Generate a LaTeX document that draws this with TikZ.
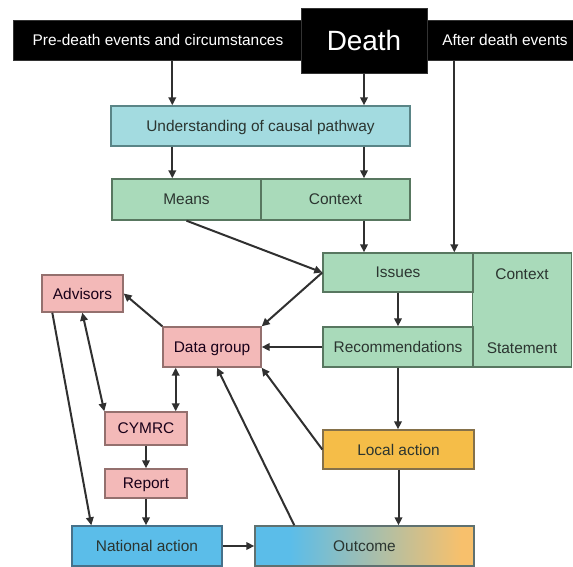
\documentclass[tikz,border=0pt]{standalone}
\usepackage{fontspec}
\usetikzlibrary{arrows.meta}
\newfontfamily\diagfont{Liberation Sans}

\definecolor{linecol}{HTML}{303030}
\definecolor{txtcol}{HTML}{2B3530}
\definecolor{cyanfill}{HTML}{A3DBE0}
\definecolor{cyanedge}{HTML}{5A8587}
\definecolor{greenfill}{HTML}{A9DABA}
\definecolor{greenedge}{HTML}{587760}
\definecolor{pinkfill}{HTML}{F3B9B8}
\definecolor{pinkedge}{HTML}{94706E}
\definecolor{orangefill}{HTML}{F5BD48}
\definecolor{orangeedge}{HTML}{85714A}
\definecolor{bluefill}{HTML}{5BBDE9}
\definecolor{blueedge}{HTML}{46718A}
\definecolor{outorange}{HTML}{F7C06C}

% outcome box: blue on the left fading into orange on the right
\pgfdeclarehorizontalshading{outshade}{100bp}{color(0bp)=(bluefill); color(33bp)=(bluefill); color(72bp)=(outorange); color(100bp)=(outorange)}

\tikzset{
  x=1bp, y=-1bp,
  lbl/.style={font=\diagfont\fontsize{15.5}{18}\selectfont, text=txtcol, inner sep=0pt, text depth=0pt},
  whitelbl/.style={lbl, text=white},
  box/.style={lbl, draw, line width=1.4bp, rectangle},
  cyanbox/.style={box, fill=cyanfill, draw=cyanedge},
  greenbox/.style={box, fill=greenfill, draw=greenedge},
  pinkbox/.style={box, fill=pinkfill, draw=pinkedge, text=black!80!violet},
  orangebox/.style={box, fill=orangefill, draw=orangeedge},
  bluebox/.style={box, fill=bluefill, draw=blueedge},
  arr/.style={draw=linecol, line width=2bp, -{Triangle[length=8bp,width=7.5bp]}},
  darr/.style={arr, {Triangle[length=8bp,width=7.5bp]}-{Triangle[length=8bp,width=7.5bp]}}
}

\begin{document}
\begin{tikzpicture}
\useasboundingbox (0,0) rectangle (573,567);

% timeline bar
\node[rectangle, fill=black, draw=black!80, minimum width=560bp, minimum height=40bp, inner sep=0pt] (bar) at (293,40) {};
\node[rectangle, fill=black, draw=black!80, minimum width=126bp, minimum height=65bp, inner sep=0pt, text depth=0pt,
      font=\diagfont\fontsize{28}{30}\selectfont, text=white] (death) at (364,40.5) {Death};
\node[whitelbl] (pre) at (158,40) {Pre-death events and circumstances};
\node[whitelbl] (after) at (505,40) {After death events};

% review boxes
\node[cyanbox, minimum width=299bp, minimum height=40bp] (und) at (260.5,126) {Understanding of causal pathway};
\node[greenbox, minimum width=149bp, minimum height=41bp] (means) at (186.5,199.5) {Means};
\node[greenbox, minimum width=149bp, minimum height=41bp] (ctxa) at (335.5,199.5) {Context};
\node[greenbox, minimum width=99bp, minimum height=114bp] (ctxb) at (522,310) {};
\node[lbl] (ctxlbl) at (522,274) {Context};
\node[lbl] (stmtlbl) at (522,348) {Statement};
\node[greenbox, minimum width=150bp, minimum height=39bp] (issues) at (398,272.5) {Issues};
\node[greenbox, minimum width=150bp, minimum height=40bp] (recs) at (398,347) {Recommendations};

% groups and actions
\node[pinkbox, minimum width=98bp, minimum height=40bp] (datag) at (212,347) {Data group};
\node[pinkbox, minimum width=81bp, minimum height=37bp] (adv) at (82.5,293.5) {Advisors};
\node[pinkbox, minimum width=82bp, minimum height=33bp] (cymrc) at (146,428.5) {CYMRC};
\node[pinkbox, minimum width=82bp, minimum height=29bp] (report) at (146,483.5) {Report};
\node[orangebox, minimum width=151bp, minimum height=39bp] (local) at (398.5,449.5) {Local action};
\node[bluebox, minimum width=150bp, minimum height=40bp] (natl) at (147,546) {National action};
\node[box, draw=blueedge!60!orangeedge, shading=outshade, minimum width=219bp, minimum height=40bp] (outc) at (364.5,546) {Outcome};

% anchor points for the off-centre connectors
\coordinate (pa) at ([xshift=62bp]und.north west);
\coordinate (pb) at ([xshift=132bp]issues.north west);
\coordinate (pc) at ([xshift=-12bp]cymrc.north east);

% top section
\draw[arr] (bar.south -| pa) -- (pa);
\draw[arr] (death.south) -- (death.south |- und.north);
\draw[arr] (und.south -| pa) -- (means.north -| pa);
\draw[arr] (und.south -| death) -- (ctxa.north -| death);
\draw[arr] (ctxa.south -| death) -- (issues.north -| death);
\draw[arr] (bar.south -| pb) -- (pb);
\draw[arr] (means.south) -- (issues.west);
\draw[arr] (issues.south) -- (recs.north);

% feedback into the data group
\draw[arr] (issues.west) -- (datag.north east);
\draw[arr] (recs.west) -- (datag.east);
\draw[arr] (local.west) -- (datag.south east);
\draw[arr] ([xshift=40bp]outc.north west) -- ([xshift=5bp]datag.south);
\draw[arr] (datag.north west) -- (adv.east);
\draw[darr] (datag.south -| pc) -- (pc);
\draw[darr] ([xshift=41bp]adv.south west) -- (cymrc.north west);

% down to action and outcome
\draw[arr] ([xshift=11bp]adv.south west) -- ([xshift=20bp]natl.north west);
\draw[arr] (cymrc.south) -- (report.north);
\draw[arr] (report.south) -- (report.south |- natl.north);
\draw[arr] (recs.south) -- (recs.south |- local.north);
\draw[arr] (local.south) -- (local.south |- outc.north);
\draw[arr] (natl.east) -- (outc.west);
\end{tikzpicture}
\end{document}
